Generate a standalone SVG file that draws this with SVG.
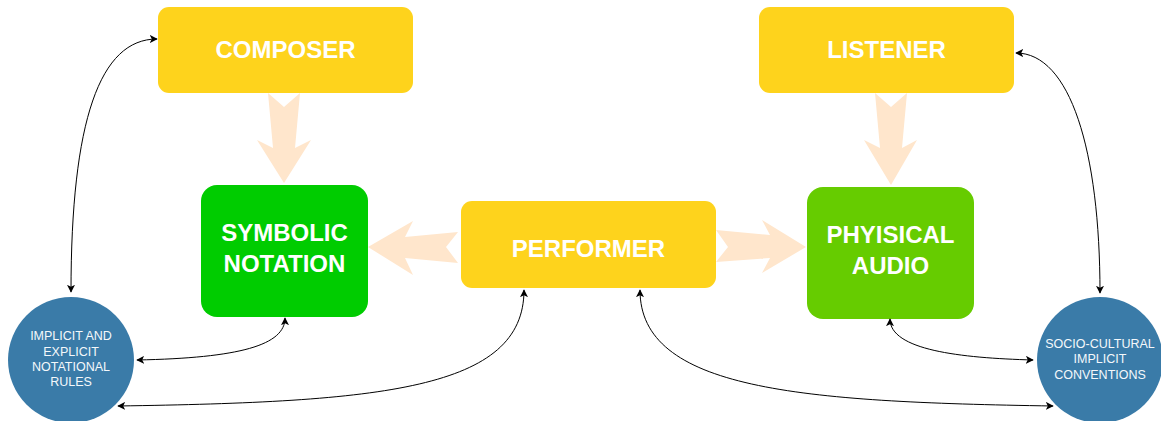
<svg xmlns="http://www.w3.org/2000/svg" width="1161" height="421" viewBox="0 0 1161 421">
<style>
.box{fill:#FED31C}
.lbl{font-family:"Liberation Sans",Arial,sans-serif;font-weight:bold;font-size:24px;fill:#ffffff;text-anchor:middle}
.clbl{font-family:"Liberation Sans",Arial,sans-serif;font-size:12.5px;fill:#f4f8fb;text-anchor:middle}
.circ{fill:#3A7BA8}
.big{fill:#FFE6CC}
.con{fill:none;stroke:#000;stroke-width:1;marker-start:url(#ah);marker-end:url(#ah)}
</style>
<defs>
<marker id="ah" viewBox="0 0 10 10" refX="9" refY="5" markerWidth="8" markerHeight="8" markerUnits="userSpaceOnUse" orient="auto-start-reverse">
<path d="M0,0 L10,5 L0,10 L2.5,5 z" fill="#000"/>
</marker>
</defs>
<g id="big-arrows">
<polygon class="big" points="268,93 284,107 300,93 295,148 311,140 284,183 257,140 273,148"/>
<polygon class="big" points="875,93 891,107 907,93 902,148 917,140 891,185 864,140 880,148"/>
<polygon class="big" points="368,247 413,221 405,237 458,232 446,247 458,263 405,258 413,275"/>
<polygon class="big" points="716,230 770,235 762,220 806,247 762,273 770,258 716,262 728,247"/>
</g>
<g id="composer"><rect class="box" x="158" y="7" width="255" height="86" rx="11"/><text class="lbl" x="285.5" y="58">COMPOSER</text></g>
<g id="listener"><rect class="box" x="759" y="7" width="255" height="86" rx="11"/><text class="lbl" x="886.5" y="58">LISTENER</text></g>
<g id="performer"><rect class="box" x="461" y="201" width="255" height="87" rx="11"/><text class="lbl" x="588.5" y="257">PERFORMER</text></g>
<g id="symbolic"><rect x="201" y="185" width="167" height="132" rx="16" fill="#00CC00"/><text class="lbl" x="284.5" y="241">SYMBOLIC</text><text class="lbl" x="284.5" y="272">NOTATION</text></g>
<g id="physical"><rect x="807" y="187" width="167" height="132" rx="16" fill="#66CC00"/><text class="lbl" x="890.5" y="243">PHYISICAL</text><text class="lbl" x="890.5" y="274">AUDIO</text></g>
<g id="rules"><circle class="circ" cx="71" cy="360" r="63"/>
<text class="clbl" x="71" y="340">IMPLICIT AND</text><text class="clbl" x="71" y="356">EXPLICIT</text><text class="clbl" x="71" y="371">NOTATIONAL</text><text class="clbl" x="71" y="386">RULES</text></g>
<g id="conventions"><circle class="circ" cx="1100" cy="360" r="63"/>
<text class="clbl" x="1100" y="348">SOCIO-CULTURAL</text><text class="clbl" x="1100" y="363">IMPLICIT</text><text class="clbl" x="1100" y="379">CONVENTIONS</text></g>
<g id="connectors">
<path class="con" d="M157,39 C100,39 71,120 71,292"/>
<path class="con" d="M1016,53 C1070,53 1100,150 1100,293"/>
<path class="con" d="M137,360 C240,358 285,345 285,318"/>
<path class="con" d="M118,406 C380,402 524,390 524,290"/>
<path class="con" d="M640,290 C640,390 800,402 1053,406"/>
<path class="con" d="M890,319 C890,350 960,358 1033,360"/>
</g>
</svg>
